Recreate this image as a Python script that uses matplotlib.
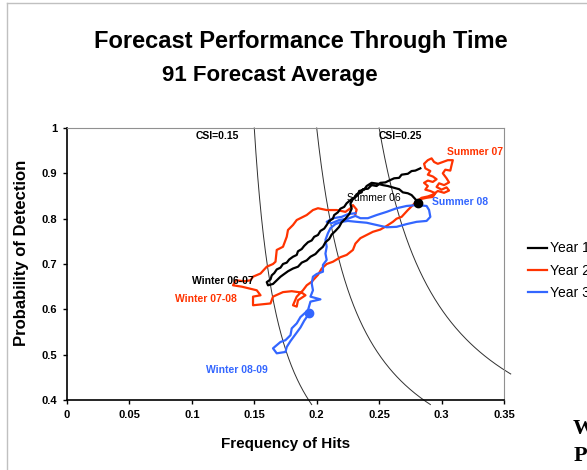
import numpy as np
import matplotlib.pyplot as plt
from matplotlib.lines import Line2D

plt.rcParams['font.family'] = ['Liberation Sans', 'DejaVu Sans']

# Year 1 (Summer 06 -> Winter 06-07 -> Summer 07)
year1_foh = [0.283, 0.279, 0.276, 0.273, 0.268, 0.266, 0.262, 0.258, 0.255, 0.251, 0.248, 0.244,
             0.241, 0.237, 0.236, 0.232, 0.230, 0.227, 0.224, 0.222, 0.219, 0.217, 0.214, 0.213,
             0.210, 0.208, 0.206, 0.203, 0.201, 0.198, 0.196, 0.193, 0.190, 0.188, 0.185, 0.184,
             0.181, 0.178, 0.176, 0.173, 0.171, 0.168, 0.166, 0.164, 0.163, 0.160, 0.161,
             0.165, 0.168, 0.171, 0.174, 0.177, 0.181, 0.185, 0.188, 0.192, 0.195, 0.199, 0.202,
             0.205, 0.207, 0.210, 0.212, 0.215, 0.218, 0.220, 0.223, 0.226, 0.228, 0.227, 0.229,
             0.233, 0.234, 0.238, 0.240, 0.244, 0.249, 0.253, 0.257, 0.262, 0.266, 0.269, 0.273,
             0.276, 0.278, 0.280, 0.281]
year1_pod = [0.911, 0.906, 0.905, 0.899, 0.897, 0.890, 0.889, 0.884, 0.880, 0.879, 0.872, 0.874,
             0.866, 0.865, 0.858, 0.854, 0.846, 0.841, 0.834, 0.826, 0.822, 0.814, 0.808, 0.800,
             0.795, 0.786, 0.778, 0.773, 0.764, 0.760, 0.752, 0.748, 0.740, 0.733, 0.728, 0.720,
             0.716, 0.710, 0.703, 0.700, 0.692, 0.688, 0.680, 0.675, 0.666, 0.660, 0.653,
             0.656, 0.664, 0.672, 0.678, 0.684, 0.690, 0.694, 0.703, 0.708, 0.716, 0.722, 0.731,
             0.738, 0.748, 0.755, 0.765, 0.773, 0.782, 0.792, 0.800, 0.810, 0.822, 0.833, 0.843,
             0.852, 0.861, 0.864, 0.872, 0.879, 0.877, 0.874, 0.872, 0.868, 0.865, 0.858, 0.856,
             0.852, 0.846, 0.840, 0.835]

# Year 2 (Summer 07 -> Winter 07-08 -> Summer 08)
year2_foh = [0.283, 0.288, 0.293, 0.295, 0.291, 0.287, 0.289, 0.286, 0.289, 0.293, 0.296, 0.293,
             0.289, 0.291, 0.287, 0.286, 0.289, 0.292, 0.294, 0.297, 0.301, 0.305, 0.309, 0.308,
             0.307, 0.303, 0.301, 0.304, 0.306, 0.302, 0.298, 0.296, 0.300, 0.304, 0.306, 0.302,
             0.297, 0.293, 0.289, 0.284, 0.280, 0.277, 0.273, 0.268, 0.264, 0.261, 0.256, 0.251,
             0.245, 0.240, 0.235, 0.231, 0.229, 0.224, 0.219, 0.213, 0.208, 0.204, 0.201, 0.196,
             0.192, 0.189, 0.184, 0.181, 0.184, 0.185, 0.191, 0.188, 0.180, 0.173, 0.165, 0.163,
             0.156, 0.149, 0.149, 0.155, 0.152, 0.140, 0.133, 0.135, 0.142, 0.147, 0.149, 0.155,
             0.160, 0.165, 0.167, 0.168, 0.173, 0.176, 0.177, 0.181, 0.184, 0.192, 0.197, 0.201,
             0.208, 0.216, 0.223, 0.227, 0.229, 0.232, 0.231]
year2_pod = [0.843, 0.846, 0.848, 0.856, 0.861, 0.864, 0.872, 0.879, 0.884, 0.881, 0.887, 0.893,
             0.897, 0.905, 0.911, 0.921, 0.929, 0.933, 0.925, 0.921, 0.925, 0.929, 0.929, 0.918,
             0.906, 0.908, 0.900, 0.889, 0.880, 0.874, 0.878, 0.870, 0.864, 0.869, 0.862, 0.857,
             0.861, 0.853, 0.849, 0.846, 0.838, 0.830, 0.819, 0.804, 0.800, 0.793, 0.784, 0.776,
             0.771, 0.764, 0.757, 0.745, 0.731, 0.720, 0.715, 0.705, 0.700, 0.690, 0.676, 0.661,
             0.653, 0.642, 0.628, 0.609, 0.606, 0.620, 0.631, 0.637, 0.640, 0.638, 0.628, 0.613,
             0.611, 0.609, 0.628, 0.631, 0.642, 0.650, 0.653, 0.664, 0.662, 0.664, 0.672, 0.679,
             0.694, 0.700, 0.705, 0.731, 0.738, 0.760, 0.775, 0.786, 0.797, 0.808, 0.819, 0.823,
             0.819, 0.819, 0.815, 0.823, 0.830, 0.820, 0.810]

# Year 3 (Summer 08 -> Winter 08-09 -> spring 09)
year3_foh = [0.231, 0.225, 0.220, 0.213, 0.208, 0.212, 0.218, 0.225, 0.231, 0.235, 0.241, 0.248,
             0.256, 0.264, 0.272, 0.280, 0.288, 0.290, 0.291, 0.288, 0.280, 0.272, 0.264, 0.256,
             0.248, 0.240, 0.232, 0.225, 0.220, 0.215, 0.211, 0.209, 0.207, 0.208, 0.207, 0.208,
             0.205, 0.205, 0.200, 0.197, 0.196, 0.197, 0.195, 0.203, 0.195, 0.193, 0.187, 0.184,
             0.180, 0.179, 0.175, 0.171, 0.165, 0.168, 0.175, 0.176, 0.179, 0.183, 0.187, 0.190,
             0.194]
year3_pod = [0.812, 0.810, 0.804, 0.801, 0.793, 0.790, 0.797, 0.800, 0.806, 0.801, 0.801, 0.808,
             0.815, 0.823, 0.828, 0.830, 0.828, 0.819, 0.804, 0.795, 0.793, 0.788, 0.782, 0.781,
             0.786, 0.791, 0.793, 0.795, 0.793, 0.788, 0.779, 0.768, 0.753, 0.738, 0.723, 0.709,
             0.698, 0.683, 0.678, 0.672, 0.657, 0.642, 0.628, 0.622, 0.617, 0.598, 0.583, 0.569,
             0.558, 0.543, 0.532, 0.528, 0.514, 0.503, 0.506, 0.517, 0.530, 0.545, 0.560, 0.575,
             0.591]

csi_levels = [0.15, 0.20, 0.25]
csi_labels = {0.15: 'CSI=0.15', 0.25: 'CSI=0.25'}

season_labels = ['Summer 06', 'Winter 06-07', 'Summer 07', 'Winter 07-08', 'Summer 08', 'Winter 08-09']
season_foh = [0.246, 0.1245, 0.327, 0.111, 0.315, 0.136]
season_pod = [0.845, 0.662, 0.948, 0.622, 0.836, 0.466]

RED = '#ff3300'
BLUE = '#3366ff'
season_colors = ['black', 'black', RED, RED, BLUE, BLUE]
season_weights = ['normal', 'bold', 'bold', 'bold', 'bold', 'bold']

fig = plt.figure(figsize=(5.87, 4.7), dpi=100)
ax = fig.add_axes([0.1141, 0.1489, 0.7445, 0.5788])

# CSI isolines: 1/CSI = 1/POD + 1/FOH - 1
for csi in csi_levels:
    pod = np.linspace(1.0, 0.39, 200)
    foh = 1.0 / (1.0 / csi + 1.0 - 1.0 / pod)
    keep = foh <= 0.356
    ax.plot(foh[keep], pod[keep], color='#303030', lw=0.7, clip_on=False, zorder=1)
    if csi in csi_labels:
        ax.text(csi - 0.0295 if csi < 0.2 else csi + 0.017, 0.983, csi_labels[csi],
                fontsize=7.5, fontweight='bold', ha='center', va='center')

ax.plot(year1_foh, year1_pod, color='black', lw=1.6, label='Year 1', zorder=3)
ax.plot(year2_foh, year2_pod, color=RED, lw=1.6, label='Year 2', zorder=2)
ax.plot(year3_foh, year3_pod, color=BLUE, lw=1.6, label='Year 3', zorder=2)
ax.plot(year1_foh[-1], year1_pod[-1], 'o', color='black', ms=6, zorder=4)
ax.plot(year3_foh[-1], year3_pod[-1], 'o', color=BLUE, ms=6, zorder=4)

for lab, x, y, c, w in zip(season_labels, season_foh, season_pod, season_colors, season_weights):
    ax.text(x, y, lab, color=c, fontsize=7.5, fontweight=w, ha='center', va='center', zorder=5)

ax.set_xlim(0, 0.35)
ax.set_ylim(0.4, 1.0)
ax.set_xticks([0, 0.05, 0.1, 0.15, 0.2, 0.25, 0.3, 0.35])
ax.set_xticklabels(['0', '0.05', '0.1', '0.15', '0.2', '0.25', '0.3', '0.35'])
ax.set_yticks([0.4, 0.5, 0.6, 0.7, 0.8, 0.9, 1.0])
ax.set_yticklabels(['0.4', '0.5', '0.6', '0.7', '0.8', '0.9', '1'])
ax.tick_params(direction='out', length=3, width=1, labelsize=8, pad=4)
for lbl in ax.get_xticklabels() + ax.get_yticklabels():
    lbl.set_fontweight('bold')
ax.spines['top'].set_color('#909090')
ax.spines['right'].set_color('#909090')
ax.spines['left'].set_linewidth(1.2)
ax.spines['bottom'].set_linewidth(1.2)

ax.set_xlabel('Frequency of Hits', fontsize=11, fontweight='bold')
ax.set_ylabel('Probability of Detection', fontsize=12, fontweight='bold')
ax.xaxis.set_label_coords(0.5, -0.135)
ax.yaxis.set_label_coords(-0.087, 0.54)

fig.text(0.513, 0.911, 'Forecast Performance Through Time', fontsize=17, fontweight='bold',
         ha='center', va='center')
fig.text(0.46, 0.840, '91 Forecast Average', fontsize=16, fontweight='bold', ha='center', va='center')

ax.legend(loc='upper left', bbox_to_anchor=(1.0, 0.67), frameon=False, fontsize=10,
          handlelength=1.4, handletextpad=0.2, labelspacing=0.6, borderaxespad=1.3)

fig.text(0.976, 0.087, 'W', fontsize=16, fontweight='bold', family='Liberation Serif', va='center')
fig.text(0.978, 0.030, 'P', fontsize=16, fontweight='bold', family='Liberation Serif', va='center')

# slide frame
fig.add_artist(Line2D([0.012, 0.012], [0.0, 0.994], transform=fig.transFigure, color='#c0c0c0', lw=1))
fig.add_artist(Line2D([0.012, 1.0], [0.994, 0.994], transform=fig.transFigure, color='#c0c0c0', lw=1))

fig.savefig('out.png', dpi=100)
